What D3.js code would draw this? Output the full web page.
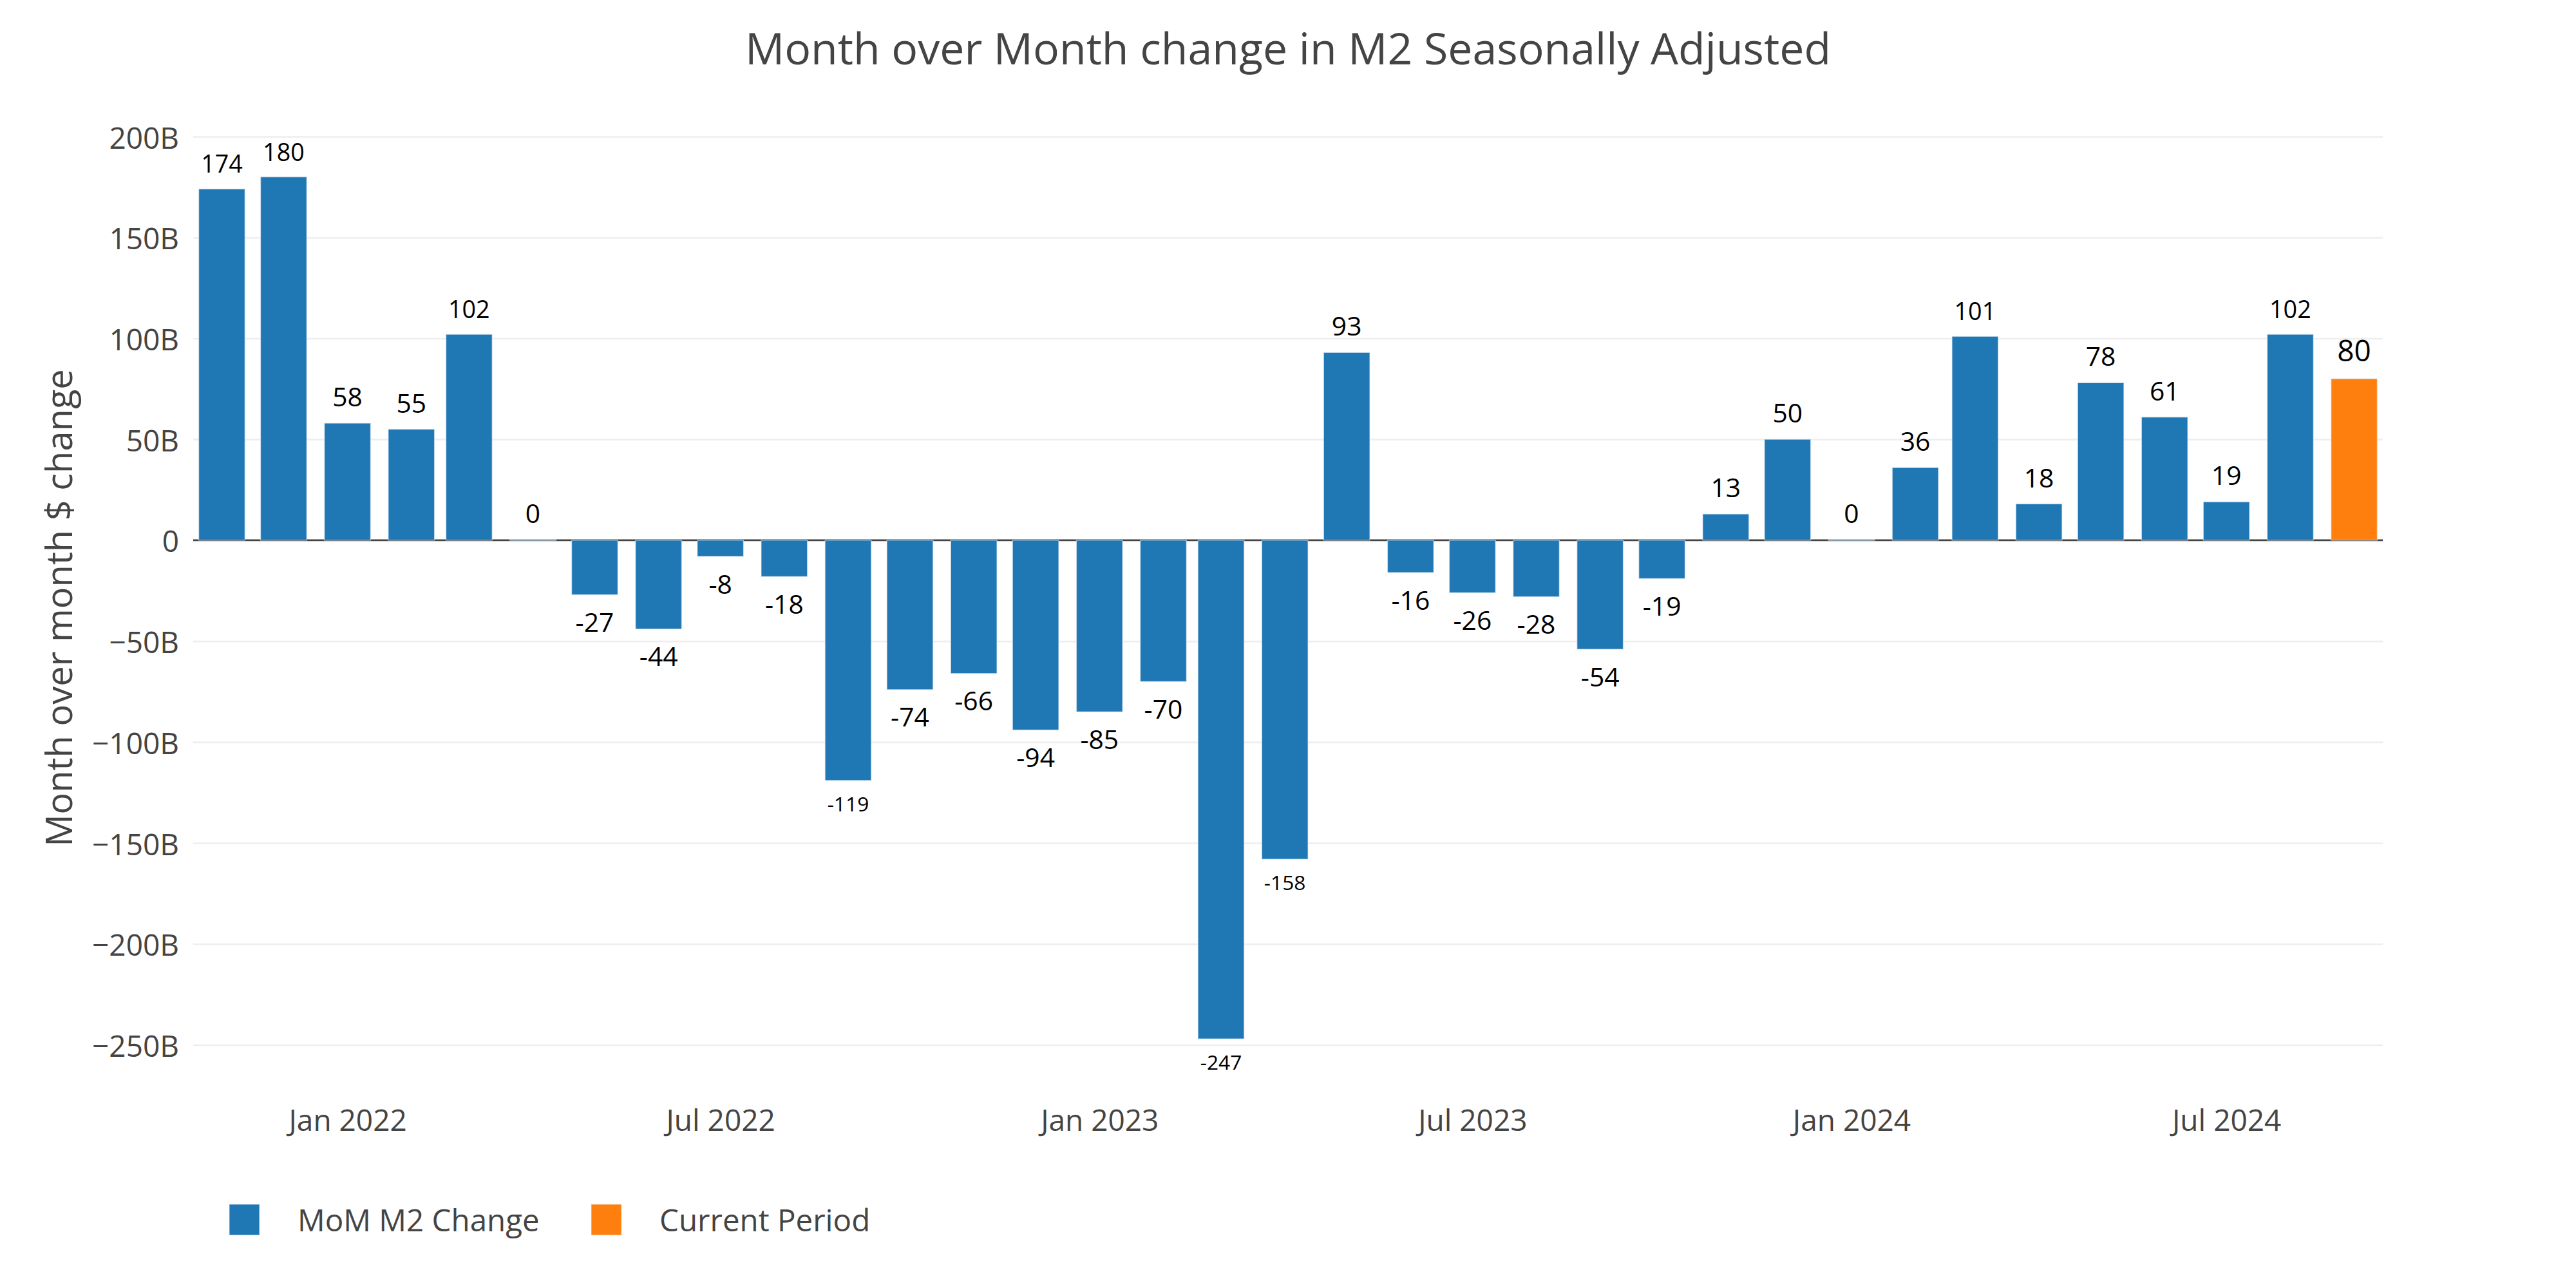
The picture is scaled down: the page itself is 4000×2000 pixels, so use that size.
<!DOCTYPE html>
<html>
<head>
<meta charset="utf-8">
<script src="https://cdn.jsdelivr.net/npm/d3@7"></script>
<style>
  html, body { margin: 0; padding: 0; background: #fff; }
  svg { display: block; font-family: "Open Sans", "Noto Sans", sans-serif; }
</style>
</head>
<body>
<svg id="chart" width="4000" height="2000"></svg>
<script>
// ---- data ----
const months = ["2021-11","2021-12","2022-01","2022-02","2022-03","2022-04","2022-05","2022-06","2022-07","2022-08","2022-09","2022-10","2022-11","2022-12","2023-01","2023-02","2023-03","2023-04","2023-05","2023-06","2023-07","2023-08","2023-09","2023-10","2023-11","2023-12","2024-01","2024-02","2024-03","2024-04","2024-05","2024-06","2024-07","2024-08","2024-09"];
const momValues = [174,180,58,55,102,0.4,-27,-44,-8,-18,-119,-74,-66,-94,-85,-70,-247,-158,93,-16,-26,-28,-54,-19,13,50,0.4,36,101,18,78,61,19,102,80];
const currentIndex = 34; // last month = "Current Period"
const yTicks = [-250,-200,-150,-100,-50,0,50,100,150,200];
const xTickMonths = ["2022-01","2022-07","2023-01","2023-07","2024-01","2024-07"];
const xTickLabels = ["Jan 2022","Jul 2022","Jan 2023","Jul 2023","Jan 2024","Jul 2024"];
const seriesNames = ["MoM M2 Change","Current Period"];
const seriesColors = ["#1f77b4","#ff7f0e"];
const titleText = "Month over Month change in M2 Seasonally Adjusted";
const yTitleText = "Month over month $ change";

// ---- helpers ----
const parseM = s => { const [y,m] = s.split("-").map(Number); return new Date(Date.UTC(y, m-1, 1)); };
const DAY = 864e5;
const dates = months.map(parseM);
const series = [
  dates.map((d,i)=>({date:d, value:momValues[i], idx:i})).filter(d=>d.idx!==currentIndex),
  [{date:dates[currentIndex], value:momValues[currentIndex], idx:currentIndex}]
];

const svg = d3.select("#chart");
const plot = {left:300, right:3700, top:212, bottom:1622.5};

const barDays = 28 * 0.8;          // bar width in days (min spacing * (1 - gap))
const padDays = 2.7;
const x = d3.scaleUtc()
  .domain([new Date(+dates[0] - (barDays/2 + padDays)*DAY), new Date(+dates[dates.length-1] + (barDays/2 + padDays)*DAY)])
  .range([plot.left, plot.right]);
const y = d3.scaleLinear().domain([-250, 200]).range([plot.bottom, plot.top]);
const bw = x(new Date(+dates[0] + barDays*DAY)) - x(dates[0]);

// title
svg.append("text").attr("x", 2000).attr("y", 100).attr("text-anchor","middle")
  .attr("font-size", 68).attr("fill","#444").text(titleText);

// grid
const yAxis = d3.axisLeft(y).tickValues(yTicks)
  .tickSize(-(plot.right - plot.left)).tickPadding(22)
  .tickFormat(v => v === 0 ? "0" : (v < 0 ? "\u2212" : "") + Math.abs(v) + "B");
const gy = svg.append("g").attr("transform", `translate(${plot.left},0)`).call(yAxis);
gy.select(".domain").remove();
gy.selectAll(".tick line").attr("stroke", d => d === 0 ? "none" : "#eeeeee").attr("stroke-width", 2.6);
gy.selectAll(".tick text").attr("font-size", 46).attr("fill","#444")
  .attr("font-family", "'Open Sans', sans-serif").attr("dy", null).attr("dominant-baseline","central");

// zero line
svg.append("line").attr("x1", plot.left).attr("x2", plot.right)
  .attr("y1", y(0)).attr("y2", y(0)).attr("stroke","#444").attr("stroke-width", 2.6);

// x axis labels
const xAxis = d3.axisBottom(x).tickValues(xTickMonths.map(parseM)).tickSize(0).tickPadding(0)
  .tickFormat((d,i) => xTickLabels[i]);
const gx = svg.append("g").attr("transform", `translate(0,1756)`).call(xAxis);
gx.select(".domain").remove();
gx.selectAll(".tick text").attr("font-size", 46).attr("fill","#444").attr("dy", 0)
  .attr("font-family", "'Open Sans', sans-serif");

// y title
svg.append("text").attr("transform", "translate(112,944) rotate(-90)").attr("text-anchor","middle")
  .attr("font-size", 56).attr("fill","#444").text(yTitleText);

// bars + labels
const baseFont = [40.8, 45.9];
const fmt = v => { const r = Math.round(v); return (r < 0 ? "-" : "") + Math.abs(r); };
series.forEach((data, si) => {
  const g = svg.append("g");
  g.selectAll("rect").data(data).join("rect")
    .attr("x", d => x(d.date) - bw/2)
    .attr("width", bw)
    .attr("y", d => Math.min(y(d.value), y(0)))
    .attr("height", d => Math.max(Math.abs(y(d.value) - y(0)), 1.5))
    .attr("fill", seriesColors[si])
    .attr("stroke", "rgba(229,236,246,0.6)").attr("stroke-width", 1.3);
  g.selectAll("text").data(data).join("text")
    .attr("x", d => x(d.date))
    .attr("text-anchor","middle")
    .attr("fill","#000")
    .attr("font-size", baseFont[si])
    .text(d => fmt(d.value))
    .each(function(d){
      const el = d3.select(this);
      const w = this.getComputedTextLength();
      const avail = bw - 7;
      let fs = baseFont[si];
      if (w > avail) fs = fs * avail / w;
      el.attr("font-size", fs);
      if (d.value >= 0) el.attr("y", y(d.value) - 14 - 0.293*fs);
      else el.attr("y", y(d.value) + 14 + 1.069*fs);
    });
});

// legend
const legend = svg.append("g");
const legX = [356, 918];
seriesNames.forEach((name, i) => {
  legend.append("rect").attr("x", legX[i]).attr("y", 1870).attr("width", 47).attr("height", 48)
    .attr("fill", seriesColors[i]).attr("stroke","rgba(229,236,246,0.6)").attr("stroke-width",1.3);
  legend.append("text").attr("x", legX[i] + 106).attr("y", 1912).attr("font-size", 47.5)
    .attr("fill","#444").text(name);
});
</script>
</body>
</html>
